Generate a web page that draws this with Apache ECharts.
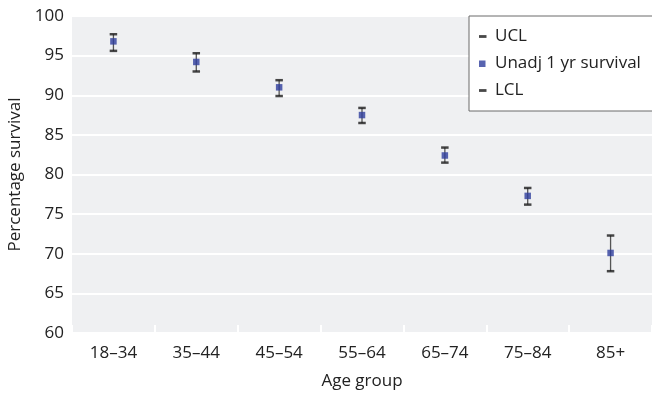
<!DOCTYPE html>
<html><head><meta charset="utf-8">
<script src="https://cdn.jsdelivr.net/npm/echarts@6/dist/echarts.min.js"></script>
<style>html,body{margin:0;padding:0;background:#fff}#c{width:652px;height:394px}</style>
</head><body><div id="c"></div>
<script>
var categories = ['18–34','35–44','45–54','55–64','65–74','75–84','85+'];
var survival = [96.8, 94.2, 91.0, 87.5, 82.4, 77.3, 70.1];
var ucl = [97.7, 95.3, 91.9, 88.4, 83.4, 78.3, 72.3];
var lcl = [95.6, 93.0, 89.9, 86.5, 81.5, 76.2, 67.8];
var yTicks = {min: 60, max: 100, interval: 5};

var FONT = 'Open Sans';
var chart = echarts.init(document.getElementById('c'));
var capIcon = 'path://M0,0L0,0M0,2.6h7.5v2.8H0z M11,8L11,8';
var boxIcon = 'path://M0,0L0,0M0,1h6.5v6.5H0z M11,8L11,8';
chart.setOption({
  animation: false,
  textStyle: {fontFamily: FONT},
  grid: {left: 72, right: 0, top: 16, bottom: 61, show: true, backgroundColor: '#eff0f2', borderWidth: 0,
    containLabel: false, outerBoundsMode: 'none'},
  legend: {
    orient: 'vertical', left: 469, top: 16,
    backgroundColor: '#fff', borderColor: '#6a6a6a', borderWidth: 1,
    padding: [12, 40, 12, 10], itemGap: 10, itemWidth: 11, itemHeight: 8,
    textStyle: {fontSize: 17, color: '#222', fontFamily: FONT},
    data: [
      {name: 'UCL', icon: capIcon},
      {name: 'Unadj 1 yr survival', icon: boxIcon},
      {name: 'LCL', icon: capIcon}
    ]
  },
  xAxis: {
    type: 'category', data: categories, boundaryGap: true,
    name: 'Age group', nameLocation: 'middle', nameGap: 40,
    nameTextStyle: {fontSize: 17, color: '#222'},
    axisLine: {show: false},
    axisTick: {show: true, inside: true, length: 8, lineStyle: {color: '#fff', width: 2}},
    axisLabel: {fontSize: 17, color: '#222', margin: 12}
  },
  yAxis: {
    type: 'value', min: yTicks.min, max: yTicks.max, interval: yTicks.interval,
    name: 'Percentage survival', nameLocation: 'middle', nameGap: 43,
    nameTextStyle: {fontSize: 17, color: '#222'},
    axisLine: {show: false}, axisTick: {show: false},
    axisLabel: {fontSize: 17, color: '#222', margin: 8},
    splitLine: {lineStyle: {color: '#fff', width: 2}}
  },
  series: [
    {
      type: 'custom', name: 'bars', silent: true, z: 1,
      data: categories.map(function (c, i) { return [i, lcl[i], ucl[i]]; }),
      renderItem: function (params, api) {
        var lo = api.coord([api.value(0), api.value(1)]);
        var hi = api.coord([api.value(0), api.value(2)]);
        return {type: 'line', shape: {x1: lo[0], y1: lo[1], x2: hi[0], y2: hi[1]},
          style: {stroke: '#555', lineWidth: 1.3}};
      }
    },
    {type: 'scatter', name: 'UCL', data: ucl, symbol: 'rect', symbolSize: [7.5, 2.5], z: 3,
      itemStyle: {color: '#1a1a1a'}},
    {type: 'scatter', name: 'Unadj 1 yr survival', data: survival, symbol: 'rect', symbolSize: 6.5, z: 4,
      itemStyle: {color: '#2e3d9c'}},
    {type: 'scatter', name: 'LCL', data: lcl, symbol: 'rect', symbolSize: [7.5, 2.5], z: 3,
      itemStyle: {color: '#1a1a1a'}}
  ]
});
</script></body></html>
